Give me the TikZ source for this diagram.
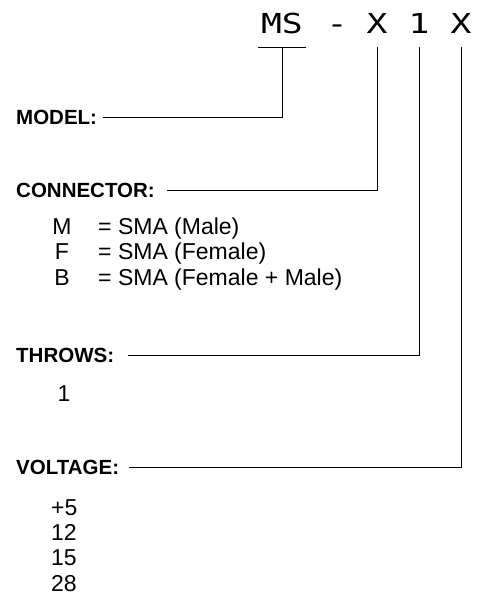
\documentclass[tikz,border=0pt]{standalone}
\usepackage{fontspec}
\setmainfont{Liberation Sans}
\newfontfamily\codefont[FakeStretch=1.26]{DejaVu Sans Mono}
\begin{document}
\begin{tikzpicture}[x=1pt,y=-1pt,
  code/.style={font=\codefont\fontsize{27.5}{30}\selectfont, inner xsep=2.6pt, inner ysep=14pt, anchor=base},
  fieldlbl/.style={font=\bfseries\fontsize{20.5}{24}\selectfont, anchor=west, inner sep=0pt},
  optkey/.style={font=\fontsize{23}{26}\selectfont, anchor=base, inner sep=0pt},
  opttext/.style={font=\fontsize{23}{26}\selectfont, anchor=base west, inner sep=0pt},
  conn/.style={line width=1pt}]
\path[use as bounding box] (0,0) rectangle (482,598);

% model code
\node[code] (ms)   at (282,33) {MS};
\node[code] (dash) at (337,33) {-};
\node[code] (xa)   at (377,33) {X};
\node[code] (one)  at (419,33) {1};
\node[code] (xb)   at (461,33) {X};

% field labels
\node[fieldlbl] (model)     at (16,117) {MODEL:};
\node[fieldlbl] (connector) at (16,190) {CONNECTOR:};
\node[fieldlbl] (throws)    at (16,355) {THROWS:};
\node[fieldlbl] (voltage)   at (16,467) {VOLTAGE:};

% connectors
\draw[conn] (ms.south west) -- (ms.south east);
\draw[conn] (ms.south) |- ([xshift=6pt]model.east);
\draw[conn] (xa.south) |- ([xshift=12pt]connector.east);
\draw[conn] (one.south) |- ([xshift=14pt]throws.east);
\draw[conn] (xb.south) |- ([xshift=10pt]voltage.east);

% connector options
\node[optkey] (km) at (62,234.3) {M};
\node[optkey] (kf) at (62,259.3) {F};
\node[optkey] (kb) at (62,285.3) {B};
\node[opttext] (tm) at (98,234.3) {= SMA (Male)};
\node[opttext] (tf) at (98,259.3) {= SMA (Female)};
\node[opttext] (tb) at (98,285.3) {= SMA (Female + Male)};

% throws options
\node[opttext] (t1) at (57.5,401) {1};

% voltage options
\node[opttext] (v5)  at (51,515.3) {+5};
\node[opttext] (v12) at (51,540.3) {12};
\node[opttext] (v15) at (51,565.3) {15};
\node[opttext] (v28) at (51,591.3) {28};
\end{tikzpicture}
\end{document}
